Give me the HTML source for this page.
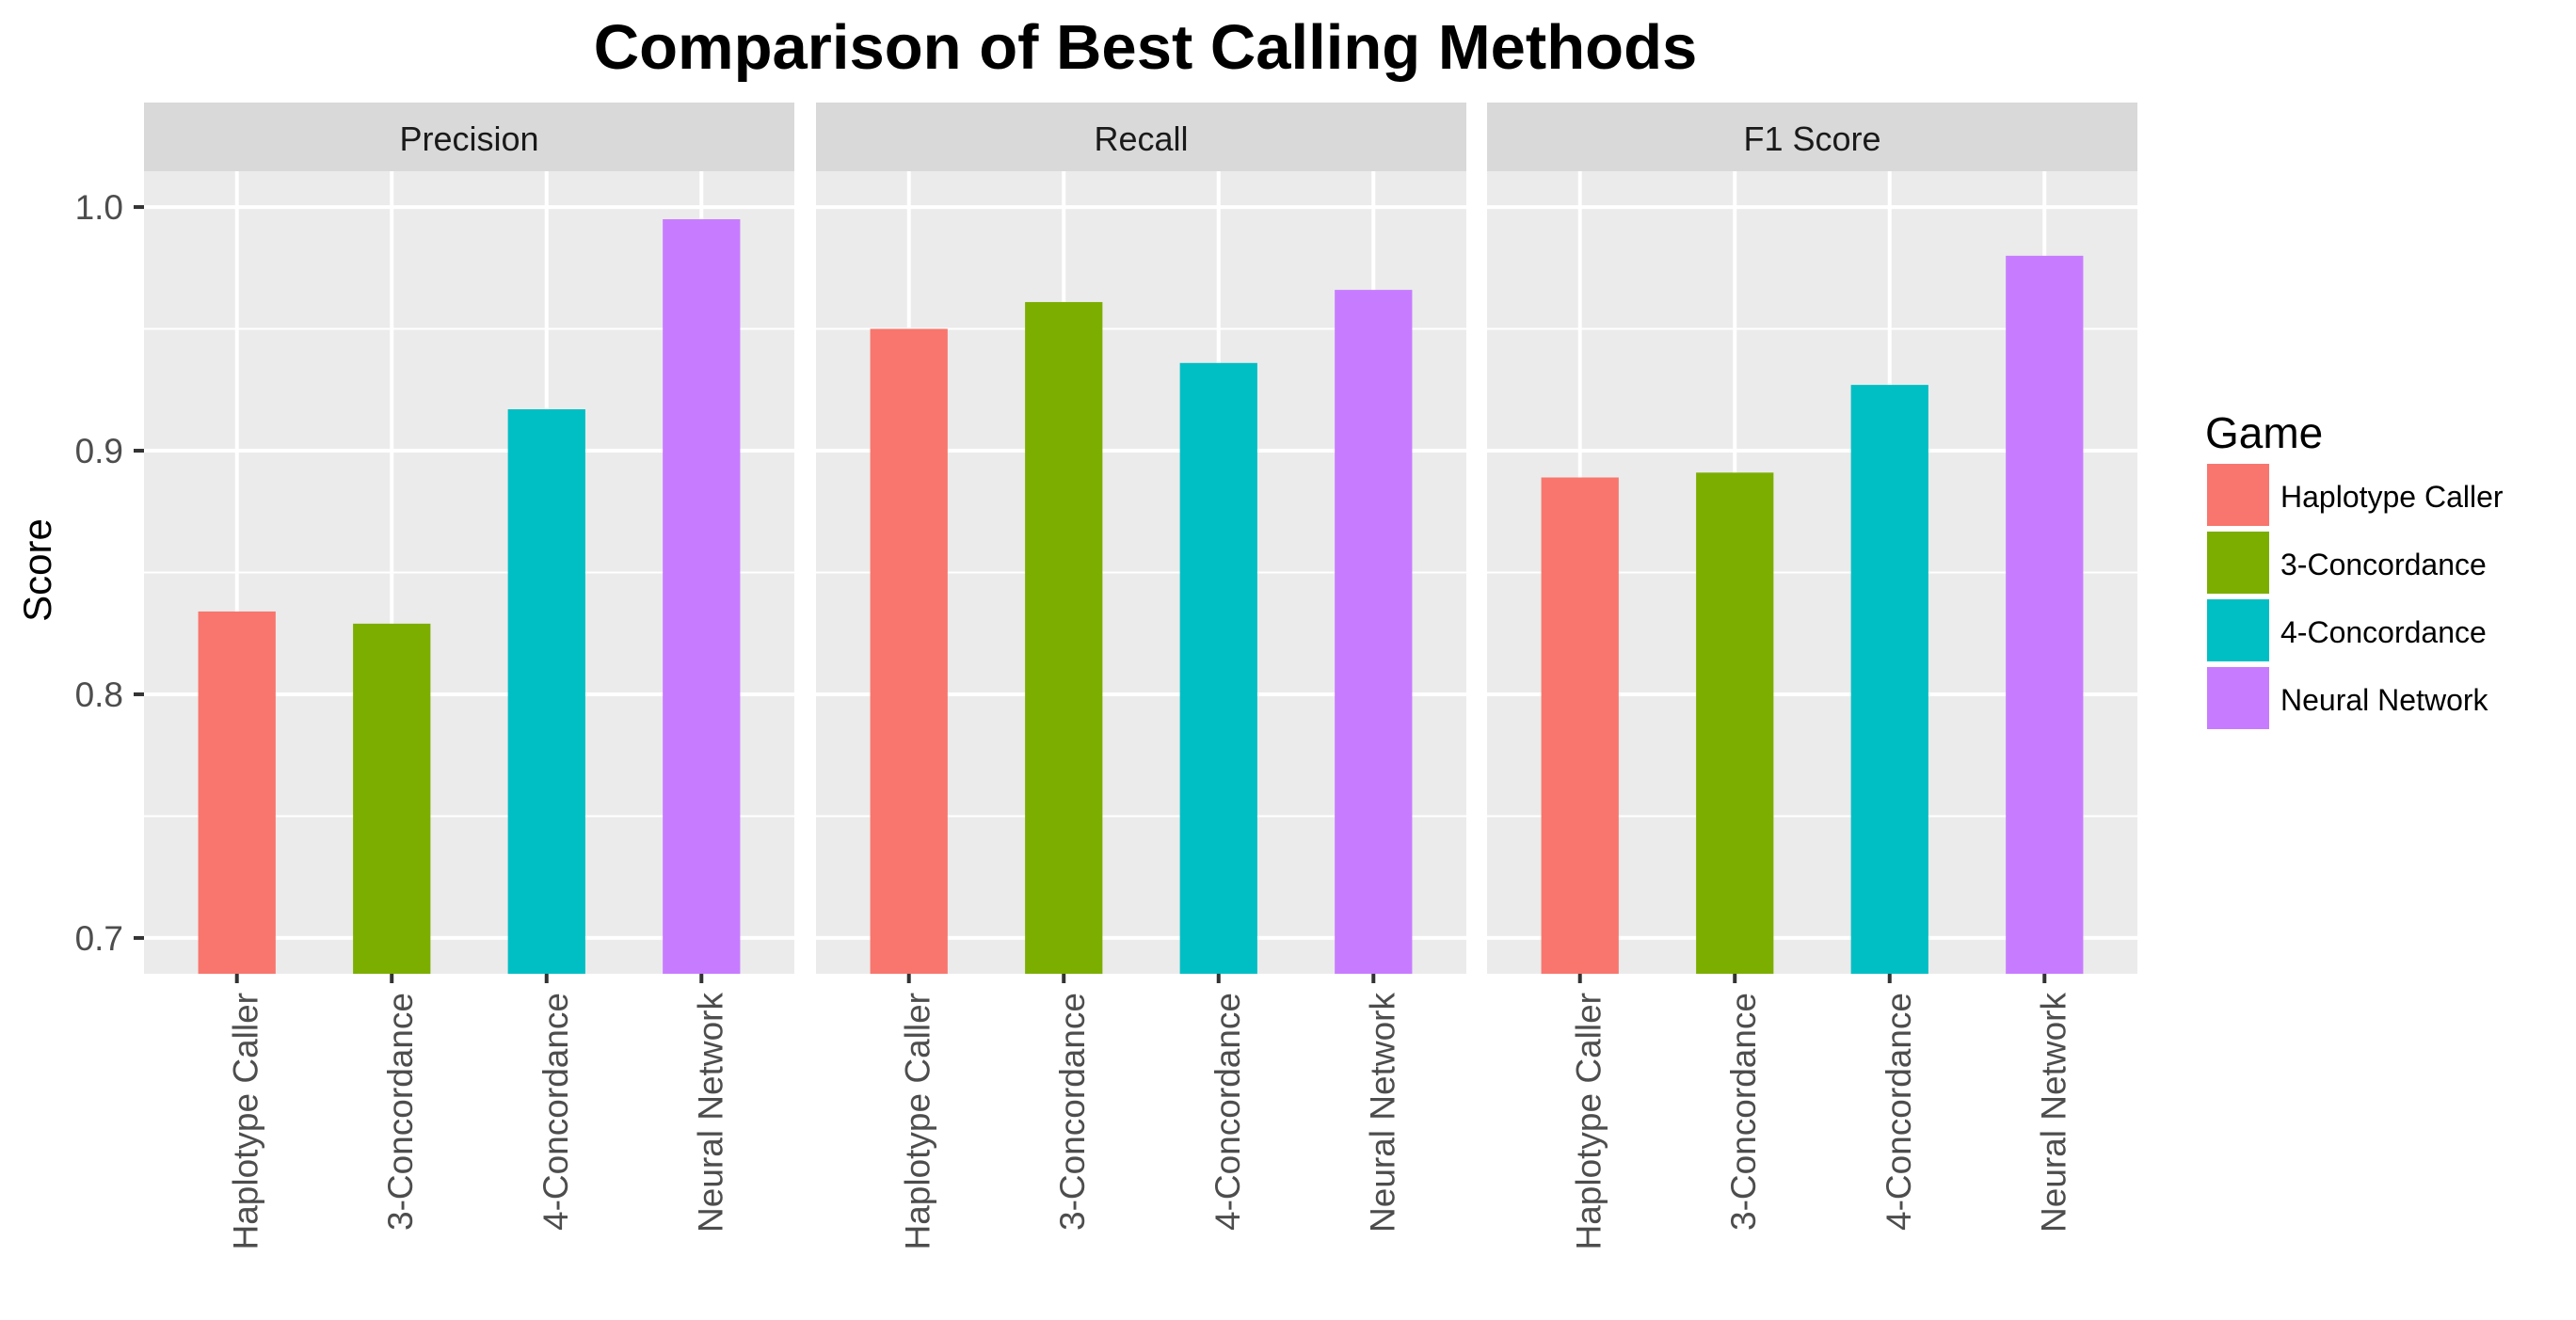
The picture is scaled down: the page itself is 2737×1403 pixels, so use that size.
<!DOCTYPE html>
<html><head><meta charset="utf-8"><style>
html,body{margin:0;padding:0;background:#fff;}
svg{display:block;font-family:"Liberation Sans",Arial,sans-serif;}
</style></head><body>
<svg id="chart" width="2737" height="1403" viewBox="0 0 2737 1403">
<rect width="2737" height="1403" fill="#fff"/>
<text x="1217" y="73" font-size="67" font-weight="bold" text-anchor="middle" fill="#000">Comparison of Best Calling Methods</text>
<text transform="translate(54,606) rotate(-90)" font-size="42" text-anchor="middle" fill="#000">Score</text>
<g id="panels"></g>
<g id="legend">
<text x="2343" y="476" font-size="46" fill="#000">Game</text>
</g>
</svg>
<script>
const facets = ["Precision", "Recall", "F1 Score"];
const categories = ["Haplotype Caller", "3-Concordance", "4-Concordance", "Neural Network"];
const precisionValues = [0.834, 0.829, 0.917, 0.995];
const recallValues = [0.950, 0.961, 0.936, 0.966];
const f1Values = [0.889, 0.891, 0.927, 0.980];
const yTicks = [0.7, 0.8, 0.9, 1.0];
const yTickLabels = ["0.7", "0.8", "0.9", "1.0"];
const yMinor = [0.75, 0.85, 0.95];
const colors = ["#F8766D", "#7CAE00", "#00BFC4", "#C77CFF"];

const NS = "http://www.w3.org/2000/svg";
const seriesByFacet = [precisionValues, recallValues, f1Values];
const panelLefts = [153, 867, 1580];
const panelW = 691, plotTop = 182, plotBottom = 1035, stripTop = 109;
const yMin = 0.6853, yMax = 1.0147;
function y(v){ return plotBottom - (v - yMin) / (yMax - yMin) * (plotBottom - plotTop); }
function x(i, left){ return left + (i + 1 - 0.4) / 4.2 * panelW; }
const bw = 0.5 * panelW / 4.2;
function mk(tag, attrs, parent){ const e = document.createElementNS(NS, tag); for (const k in attrs) e.setAttribute(k, attrs[k]); parent.appendChild(e); return e; }
const g = document.getElementById("panels");
facets.forEach((f, fi) => {
  const L = panelLefts[fi];
  const pg = mk("g", {}, g);
  
  
  const strip = mk("rect", {x: L, y: stripTop, width: panelW, height: plotTop - stripTop, fill: "#D9D9D9"}, pg);
  
  
  const st = mk("text", {x: L + panelW / 2, y: 160, "font-size": 36, "text-anchor": "middle", fill: "#1a1a1a"}, pg);
  st.textContent = f;
  
  
  const bg = mk("rect", {x: L, y: plotTop, width: panelW, height: plotBottom - plotTop, fill: "#EBEBEB"}, pg);
  
  
  yMinor.forEach(v => {
    const ln = mk("line", {x1: L, x2: L + panelW, y1: y(v), y2: y(v), stroke: "#fff", "stroke-width": 2}, pg);
    
    
  });
  yTicks.forEach(v => {
    const ln = mk("line", {x1: L, x2: L + panelW, y1: y(v), y2: y(v), stroke: "#fff", "stroke-width": 4}, pg);
    
    
  });
  categories.forEach((c, i) => {
    const ln = mk("line", {x1: x(i, L), x2: x(i, L), y1: plotTop, y2: plotBottom, stroke: "#fff", "stroke-width": 4}, pg);
    
    
  });
  seriesByFacet[fi].forEach((v, i) => {
    const b = mk("rect", {x: x(i, L) - bw / 2, y: y(v), width: bw, height: plotBottom - y(v), fill: colors[i]}, pg);
    
    
    const t = mk("line", {x1: x(i, L), x2: x(i, L), y1: plotBottom, y2: plotBottom + 10, stroke: "#333", "stroke-width": 4}, pg);
    
    
    const lab = mk("text", {transform: "translate(" + (x(i, L) + 22) + "," + (plotBottom + 20) + ") rotate(-90)", "font-size": 37, "text-anchor": "end", fill: "#4D4D4D"}, pg);
    lab.textContent = categories[i];
    
    
  });
});
const ax = mk("g", {}, document.getElementById("chart"));


yTicks.forEach((v, i) => {
  const t = mk("line", {x1: 142, x2: 153, y1: y(v), y2: y(v), stroke: "#333", "stroke-width": 4}, ax);
  
  
  const lab = mk("text", {x: 131, y: y(v) + 13, "font-size": 37, "text-anchor": "end", fill: "#4D4D4D"}, ax);
  lab.textContent = yTickLabels[i];
  
  
});
const lg = document.getElementById("legend");
categories.forEach((c, i) => {
  const ky = 493 + i * 72;
  const k = mk("rect", {x: 2345, y: ky, width: 66, height: 66, fill: colors[i]}, lg);
  
  
  const t = mk("text", {x: 2423, y: ky + 46, "font-size": 32, fill: "#000"}, lg);
  t.textContent = c;
  
  
});
</script>
</body></html>
